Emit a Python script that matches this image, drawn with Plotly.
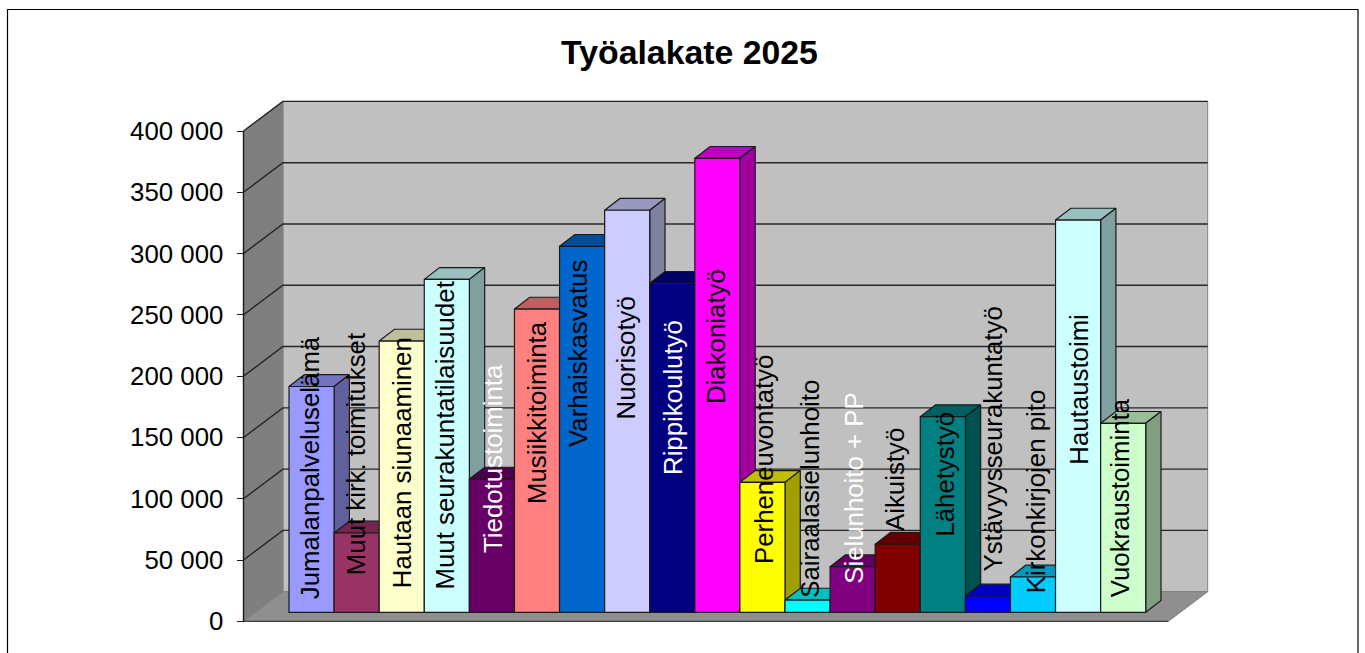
import plotly.graph_objects as go

categories = ["Jumalanpalveluselämä", "Muut kirk. toimitukset", "Hautaan siunaaminen",
              "Muut seurakuntatilaisuudet", "Tiedotustoiminta", "Musiikkitoiminta",
              "Varhaiskasvatus", "Nuorisotyö", "Rippikoulutyö", "Diakoniatyö",
              "Perheneuvontatyö", "Sairaalasielunhoito", "Sielunhoito + PP", "Aikuistyö",
              "Lähetystyö", "Ystävyysseurakuntatyö", "Kirkonkirjojen pito", "Hautaustoimi",
              "Vuokraustoiminta"]
values = [184200, 64700, 221300, 271600, 108700, 247400, 298600, 328000, 268400, 370400,
          106000, 10000, 37200, 55500, 159600, 13300, 28800, 320000, 154200]
colors = ["#9999FF", "#993366", "#FFFFCC", "#CCFFFF", "#660066", "#FF8080", "#0066CC",
          "#CCCCFF", "#000080", "#FF00FF", "#FFFF00", "#00FFFF", "#800080", "#800000",
          "#008080", "#0000FF", "#00CCFF", "#CCFFFF", "#CCFFCC"]
label_colors = ["black"] * 19
for i in (4, 8, 12):
    label_colors[i] = "white"
# centre of each rotated label, in pixels of the page
label_mid_px = [467.5, 454, 463, 436, 459, 413, 354, 358, 397.5, 336.5, 460, 489, 488, 480,
                474, 439, 491, 389, 498]
label_x_px = [309.7, 356.2, 402.2, 444.5, 493, 537, 578, 625.5, 672.5, 715.5, 764, 809.7,
              853.8, 895, 944.6, 992.5, 1036.3, 1078.7, 1120.3]
tick_values = [0, 50000, 100000, 150000, 200000, 250000, 300000, 350000, 400000]
tick_labels = ["0", "50 000", "100 000", "150 000", "200 000", "250 000", "300 000",
               "350 000", "400 000"]

W, H = 1365, 653
FONT = "Liberation Sans, Arial, sans-serif"
TEXT_SIZE = 25.8
PX_PER_CAT = 45.09
PX_PER_VAL = 490.3 / 400000
Y0_PX = 621.3           # value 0 on the front axis edge
X0_PX = 311.55          # centre of the first bar


def xd(px):
    return (px - X0_PX) / PX_PER_CAT


def yd(px):
    return (Y0_PX - px) / PX_PER_VAL


xr = [xd(0), xd(W)]
yr = [yd(H), yd(0)]

# projection offsets
wall_dx = 39.4 / PX_PER_CAT
wall_dy = 29.6 / PX_PER_VAL
bar_dx = 15.3 / PX_PER_CAT
bar_dy = 11.8 / PX_PER_VAL
bar_base = 9.0 / PX_PER_VAL
x_left = xd(243.5)
x_right = xd(1168.3)
y_max = 400000


def shade(hex_color, k):
    r, g, b = (int(hex_color[j:j + 2], 16) for j in (1, 3, 5))
    return f"rgb({round(r * k)},{round(g * k)},{round(b * k)})"


def poly(xs, ys, fill, line="#1a1a1a", width=1.2):
    return go.Scatter(x=xs + xs[:1], y=ys + ys[:1], mode="lines", fill="toself",
                      fillcolor=fill, line=dict(color=line, width=width),
                      hoverinfo="skip", showlegend=False, xaxis="x", yaxis="y")


fig = go.Figure()

# walls and floor
fig.add_trace(poly([x_left + wall_dx, x_right + wall_dx, x_right + wall_dx, x_left + wall_dx],
                   [wall_dy, wall_dy, y_max + wall_dy, y_max + wall_dy], "#C0C0C0", "#808080", 1))
fig.add_trace(poly([x_left, x_left + wall_dx, x_left + wall_dx, x_left],
                   [0, wall_dy, y_max + wall_dy, y_max], "#7F7F7F", "#808080", 1))
fig.add_trace(poly([x_left, x_right, x_right + wall_dx, x_left + wall_dx],
                   [0, 0, wall_dy, wall_dy], "#8F8F8F", "#808080", 1))
# floor front edge
fig.add_trace(go.Scatter(x=[x_left, x_right], y=[0, 0], mode="lines",
                         line=dict(color="#404040", width=1.2),
                         hoverinfo="skip", showlegend=False))
# gridlines on both walls
for t in tick_values[1:]:
    fig.add_trace(go.Scatter(x=[x_left, x_left + wall_dx, x_right + wall_dx],
                             y=[t, t + wall_dy, t + wall_dy], mode="lines",
                             line=dict(color="#262626", width=1.4),
                             hoverinfo="skip", showlegend=False))
# front-left edge of the side wall
fig.add_trace(go.Scatter(x=[x_left, x_left], y=[0, y_max], mode="lines",
                         line=dict(color="#1a1a1a", width=1.4),
                         hoverinfo="skip", showlegend=False))

# top and side faces, painted left to right
for i, (v, c) in enumerate(zip(values, colors)):
    L, R = i - 0.5, i + 0.5
    top = bar_base + v
    fig.add_trace(poly([L, L + bar_dx, R + bar_dx, R],
                       [top, top + bar_dy, top + bar_dy, top], shade(c, 0.75)))
    fig.add_trace(poly([R, R + bar_dx, R + bar_dx, R],
                       [top, top + bar_dy, bar_base + bar_dy, bar_base], shade(c, 0.625)))

# front faces on an overlaid pair of axes so they cover the earlier side faces
fig.add_trace(go.Bar(x=list(range(len(values))), y=values, base=bar_base, width=1,
                     marker=dict(color=colors, line=dict(color="#1a1a1a", width=1.2)),
                     customdata=categories, hovertemplate="%{customdata}: %{y}<extra></extra>",
                     showlegend=False, xaxis="x2", yaxis="y2"))

annotations = [
    dict(x=xd(px), y=yd(py), xref="x", yref="y", text=name, textangle=-90,
         showarrow=False, xanchor="center", yanchor="middle",
         font=dict(family=FONT, size=TEXT_SIZE, color=col))
    for name, px, py, col in zip(categories, label_x_px, label_mid_px, label_colors)
]

fig.update_layout(
    width=W, height=H, autosize=False,
    margin=dict(l=0, r=0, t=0, b=0, pad=0),
    paper_bgcolor="white", plot_bgcolor="rgba(0,0,0,0)",
    barmode="overlay", showlegend=False,
    font=dict(family=FONT, color="black"),
    title=dict(text="<b>Työalakate 2025</b>", x=689.5 / W, xanchor="center",
               y=1 - 52 / H, yanchor="middle", font=dict(family=FONT, size=33.8, color="black")),
    xaxis=dict(range=xr, domain=[0, 1], visible=False, fixedrange=True),
    yaxis=dict(range=yr, domain=[0, 1], anchor="free", position=243.5 / W, side="left",
               tickmode="array", tickvals=tick_values, ticktext=tick_labels,
               ticks="outside", ticklen=7, tickwidth=1.2, tickcolor="#1a1a1a",
               ticklabelstandoff=8,
               tickfont=dict(family=FONT, size=TEXT_SIZE, color="black"),
               showgrid=False, zeroline=False, showline=False, fixedrange=True),
    xaxis2=dict(range=xr, overlaying="x", visible=False, fixedrange=True),
    yaxis2=dict(range=yr, overlaying="y", visible=False, fixedrange=True),
    annotations=annotations,
    shapes=[dict(type="rect", xref="paper", yref="paper", x0=7.5 / W, x1=1358 / W,
                 y0=-0.05, y1=1 - 9.5 / H, line=dict(color="black", width=1.2),
                 fillcolor="rgba(0,0,0,0)", layer="below")],
)

fig.write_html("out.html", config={"displayModeBar": False},
               post_script="document.body.style.margin='0';document.body.style.overflow='hidden';")
